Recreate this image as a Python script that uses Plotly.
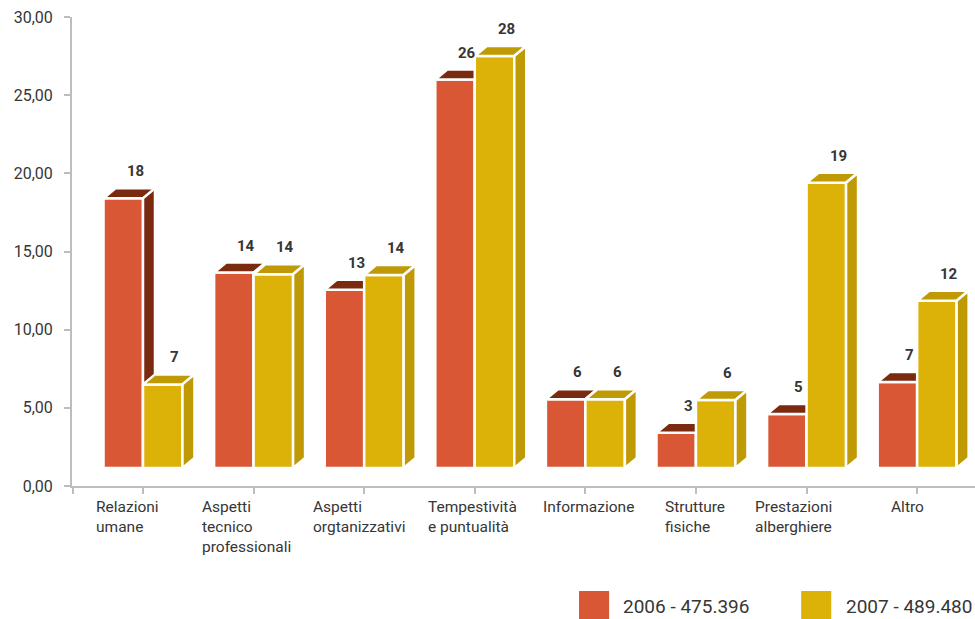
import plotly.graph_objects as go

# --- data ---------------------------------------------------------------
categories = [
    ["Relazioni", "umane"],
    ["Aspetti", "tecnico", "professionali"],
    ["Aspetti", "orgtanizzativi"],
    ["Tempestività", "e puntualità"],
    ["Informazione"],
    ["Strutture", "fisiche"],
    ["Prestazioni", "alberghiere"],
    ["Altro"],
]
values_2006 = [18.4, 13.65, 12.55, 26.0, 5.55, 3.4, 4.6, 6.65]
values_2007 = [6.5, 13.55, 13.5, 27.5, 5.55, 5.5, 19.4, 11.85]
series_names = ["2006 - 475.396", "2007 - 489.480"]
y_ticks = [0, 5, 10, 15, 20, 25, 30]

# --- styling --------------------------------------------------------------
front_colors = ["#D95735", "#DCB208"]
dark_colors = ["#7A2A0F", "#BF9A05"]
text_color = "#363636"
axis_color = "#BDBDC0"
FONT = "Roboto"

# geometry of the pseudo-3D boxes (in axis units)
bar_w = 0.357      # width of each front face
depth_x = 0.1085   # horizontal depth offset
depth_y = 0.64     # vertical depth offset
floor = 1.15       # bottom of the boxes above the zero line

# left offsets (px) of the category label blocks relative to their tick
label_offsets = [-47, -52, -51, -47, -42, -31, -52, -26]

x_range = [-0.642, 7.523]

fig = go.Figure()


def add_poly(xs, ys, color):
    fig.add_trace(go.Scatter(
        x=xs + [xs[0]], y=ys + [ys[0]], mode="lines", fill="toself",
        fillcolor=color, line=dict(color="white", width=2.5),
        hoverinfo="skip", showlegend=False,
    ))


def add_box(x0, x1, top, k):
    # front face
    add_poly([x0, x1, x1, x0], [floor, floor, top, top], front_colors[k])
    # top face
    add_poly([x0, x1, x1 + depth_x, x0 + depth_x],
             [top, top, top + depth_y, top + depth_y], dark_colors[k])
    # right side face
    add_poly([x1, x1 + depth_x, x1 + depth_x, x1],
             [floor, floor + depth_y, top + depth_y, top], dark_colors[k])


annotations = []
for i, (a, b) in enumerate(zip(values_2006, values_2007)):
    for k, (v, x0) in enumerate([(a, i - bar_w), (b, i)]):
        x1 = x0 + bar_w
        add_box(x0, x1, v, k)
        annotations.append(dict(
            x=(x0 + x1) / 2 + depth_x, y=v + depth_y, xref="x", yref="y",
            text=str(int(v + 0.5)), showarrow=False, yanchor="bottom",
            yshift=6, font=dict(family=FONT, size=15, color=text_color,
                                weight="bold"),
        ))

# category labels: one left-aligned block per category
for i, lines in enumerate(categories):
    annotations.append(dict(
        x=i, y=0, xref="x", yref="y", text="<br>".join(lines),
        showarrow=False, xanchor="left", yanchor="top", align="left",
        xshift=label_offsets[i] - 2, yshift=-10,
        font=dict(family=FONT, size=15.5, color=text_color),
    ))

# legend drawn as swatches with labels below the plot
shapes = []
for k, (sx, tx) in enumerate([(0.5615, 0.6085), (0.8075, 0.8545)]):
    shapes.append(dict(type="rect", xref="paper", yref="paper",
                       x0=sx, x1=sx + 0.0333, y0=-0.2239, y1=-0.2836,
                       fillcolor=front_colors[k], line=dict(width=0)))
    annotations.append(dict(
        x=tx, y=-0.2559, xref="paper", yref="paper", text=series_names[k],
        showarrow=False, xanchor="left", yanchor="middle",
        font=dict(family=FONT, size=19, color=text_color),
    ))

fig.update_layout(
    width=975, height=619,
    margin=dict(l=72, r=0, t=17, b=133),
    paper_bgcolor="white", plot_bgcolor="white",
    separators=",.",
    showlegend=False,
    annotations=annotations,
    shapes=shapes,
    xaxis=dict(
        range=x_range, showgrid=False, zeroline=False,
        showline=True, linecolor=axis_color, linewidth=2,
        ticks="outside", ticklen=6, tickwidth=1.5, tickcolor=axis_color,
        tickvals=[x_range[0] + 0.005] + list(range(len(categories))),
        showticklabels=False, fixedrange=True,
    ),
    yaxis=dict(
        range=[0, 30], showgrid=False, zeroline=False,
        showline=True, linecolor=axis_color, linewidth=2,
        ticks="outside", ticklen=6, tickwidth=1.5, tickcolor=axis_color,
        tickvals=y_ticks, tickformat=".2f", ticklabelstandoff=8,
        tickfont=dict(family=FONT, size=16, color=text_color),
        fixedrange=True,
    ),
)

fig.write_html("out.html")
